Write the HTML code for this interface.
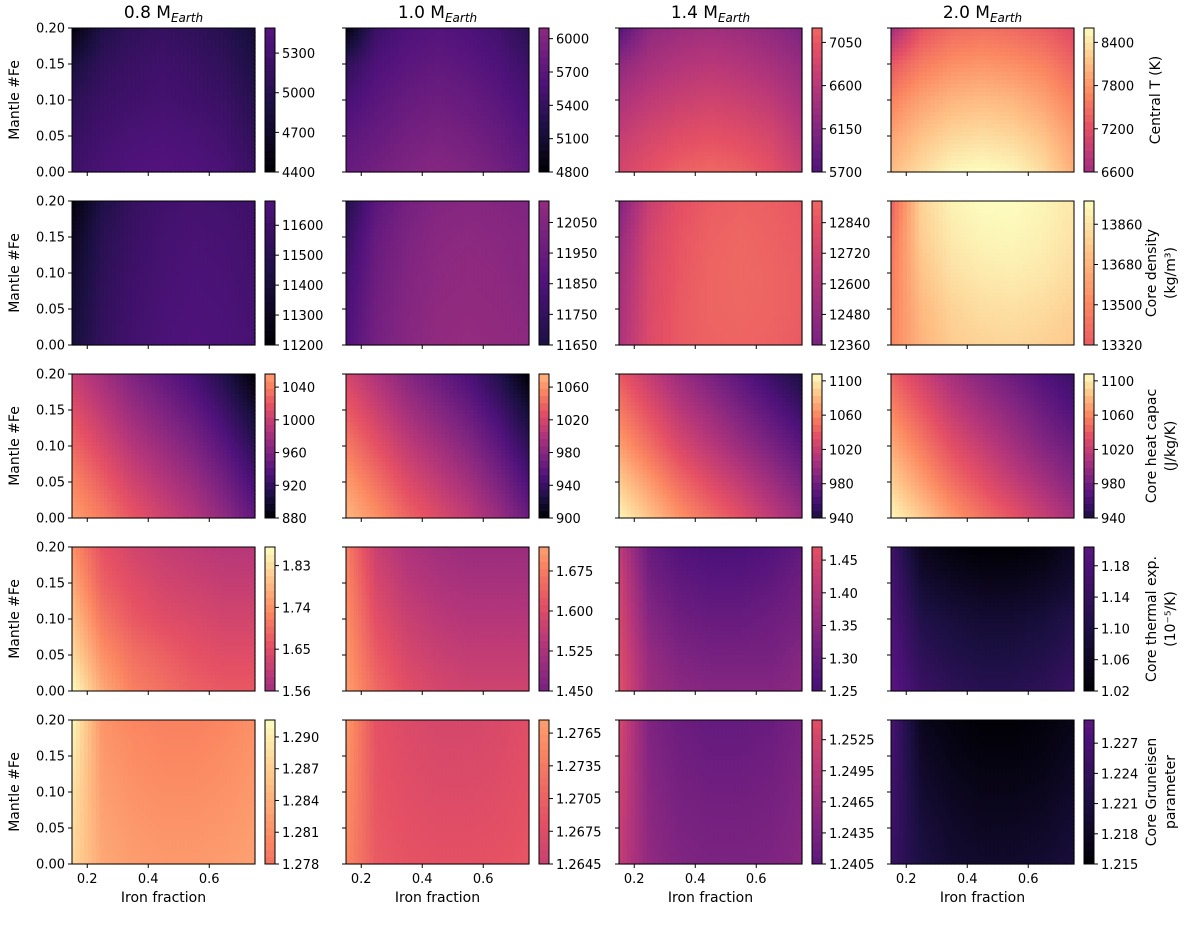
<!DOCTYPE html>
<html><head><meta charset="utf-8"><title>Planet core property grid</title>
<style>
html,body{margin:0;padding:0;background:#fff;}
svg{display:block;font-family:"DejaVu Sans","Liberation Sans",sans-serif;}
</style></head>
<body>
<svg id="fig" width="1200" height="930" viewBox="0 0 1200 930" xmlns="http://www.w3.org/2000/svg"></svg>
<script>
// ---- data ----
const massLabels = ["0.8", "1.0", "1.4", "2.0"];
const rowLabels = [["Central T (K)"], ["Core density", "(kg/m³)"], ["Core heat capac", "(J/kg/K)"], ["Core thermal exp.", "(10⁻⁵/K)"], ["Core Gruneisen", "parameter"]];
const xVals = [0.15, 0.25, 0.35, 0.45, 0.55, 0.65, 0.75];
const yVals = [0.20, 0.15, 0.10, 0.05, 0.00];
const xTicks = [0.2, 0.4, 0.6];
const yTicks = [0.00, 0.05, 0.10, 0.15, 0.20];
const cbRange = [
 [[4400,5490],[4800,6096],[5700,7200],[6600,8600]],
 [[11200,11681],[11650,12120],[12360,12925],[13320,13964]],
 [[880,1056],[900,1076],[940,1108],[940,1108]],
 [[1.56,1.87],[1.45,1.72],[1.25,1.47],[1.02,1.204]],
 [[1.278,1.2916],[1.2645,1.2777],[1.2405,1.2544],[1.215,1.2293]]
];
// fraction of the magma colormap spanned by each colorbar
const cbColor = [
 [[0,0.27],[0,0.40],[0.25,0.68],[0.45,1]],
 [[0,0.25],[0.12,0.42],[0.35,0.68],[0.65,1]],
 [[0,0.80],[0,0.85],[0.12,1],[0.12,1]],
 [[0.45,1],[0.35,0.80],[0.22,0.62],[0,0.28]],
 [[0.70,1],[0.55,0.80],[0.28,0.62],[0,0.28]]
];
const cbTicks = [
 [[4400,4700,5000,5300],[4800,5100,5400,5700,6000],[5700,6150,6600,7050],[6600,7200,7800,8400]],
 [[11200,11300,11400,11500,11600],[11650,11750,11850,11950,12050],[12360,12480,12600,12720,12840],[13320,13500,13680,13860]],
 [[880,920,960,1000,1040],[900,940,980,1020,1060],[940,980,1020,1060,1100],[940,980,1020,1060,1100]],
 [[1.56,1.65,1.74,1.83],[1.450,1.525,1.600,1.675],[1.25,1.30,1.35,1.40,1.45],[1.02,1.06,1.10,1.14,1.18]],
 [[1.278,1.281,1.284,1.287,1.290],[1.2645,1.2675,1.2705,1.2735,1.2765],[1.2405,1.2435,1.2465,1.2495,1.2525],[1.215,1.218,1.221,1.224,1.227]]
];
const cbDecimals = [[0,0,0,0],[0,0,0,0],[0,0,0,0],[2,3,2,2],[3,4,4,3]];
const r1c1 = [[4450,4950,5100,5150,5100,5000,4800],[4850,5100,5200,5250,5200,5100,4900],[5050,5200,5250,5300,5250,5200,5000],[5150,5280,5350,5380,5350,5280,5100],[5250,5350,5420,5450,5420,5350,5200]];
const r1c2 = [[4850,5450,5600,5650,5600,5500,5300],[5350,5600,5700,5750,5700,5600,5450],[5550,5700,5800,5850,5800,5700,5550],[5700,5800,5900,5950,5900,5800,5650],[5800,5900,6000,6050,6000,5900,5750]];
const r1c3 = [[5750,6250,6350,6400,6350,6250,6100],[6250,6450,6550,6600,6550,6450,6300],[6500,6650,6750,6800,6750,6650,6450],[6700,6850,6950,7000,6950,6850,6600],[6850,7000,7150,7200,7150,7000,6750]];
const r1c4 = [[6600,7250,7450,7500,7450,7350,7150],[7300,7600,7750,7800,7750,7650,7400],[7650,7900,8050,8100,8050,7900,7650],[7900,8150,8300,8350,8300,8150,7850],[8100,8350,8550,8600,8550,8350,8000]];
const r2c1 = [[11220,11450,11560,11610,11630,11620,11600],[11300,11500,11580,11630,11650,11640,11610],[11350,11520,11600,11640,11660,11650,11620],[11380,11540,11610,11650,11670,11660,11630],[11400,11550,11620,11660,11680,11670,11640]];
const r2c2 = [[11680,11900,12000,12050,12070,12060,12040],[11750,11950,12030,12080,12090,12080,12060],[11800,11970,12050,12090,12100,12090,12070],[11830,11990,12060,12100,12110,12100,12080],[11850,12000,12070,12110,12120,12110,12090]];
const r2c3 = [[12400,12700,12820,12880,12900,12890,12860],[12480,12750,12850,12900,12920,12900,12870],[12530,12770,12860,12910,12925,12910,12880],[12560,12780,12870,12910,12920,12910,12880],[12580,12790,12870,12900,12910,12900,12870]];
const r2c4 = [[13350,13800,13920,13960,13960,13930,13880],[13420,13780,13890,13930,13940,13910,13860],[13460,13740,13850,13890,13900,13880,13830],[13480,13700,13800,13840,13850,13830,13790],[13500,13680,13770,13800,13810,13790,13760]];
const r3c1 = [[1000,980,960,945,930,910,880],[1015,995,975,960,945,925,900],[1030,1010,990,975,960,940,915],[1045,1025,1005,990,975,955,930],[1056,1040,1020,1005,990,970,945]];
const r3c2 = [[1020,1000,980,965,950,930,900],[1035,1015,995,980,965,945,920],[1050,1030,1010,995,980,960,935],[1065,1045,1025,1010,995,975,950],[1076,1060,1040,1025,1010,990,965]];
const r3c3 = [[1040,1020,1000,985,970,955,940],[1055,1035,1015,1000,985,970,955],[1070,1050,1030,1015,1000,985,970],[1088,1068,1048,1032,1018,1002,985],[1105,1085,1065,1050,1035,1018,1000]];
const r3c4 = [[1045,1025,1005,990,978,965,955],[1060,1040,1020,1005,992,978,965],[1075,1055,1035,1020,1005,990,978],[1090,1070,1050,1035,1020,1005,990],[1106,1088,1068,1052,1038,1022,1005]];
const r4c1 = [[1.74,1.66,1.63,1.61,1.60,1.59,1.59],[1.77,1.68,1.65,1.63,1.62,1.61,1.61],[1.80,1.71,1.67,1.65,1.64,1.63,1.63],[1.83,1.74,1.70,1.68,1.66,1.65,1.65],[1.87,1.77,1.72,1.70,1.68,1.67,1.67]];
const r4c2 = [[1.68,1.57,1.53,1.51,1.50,1.50,1.50],[1.69,1.59,1.55,1.53,1.52,1.52,1.52],[1.70,1.61,1.57,1.55,1.54,1.54,1.54],[1.71,1.63,1.59,1.57,1.56,1.56,1.56],[1.72,1.65,1.61,1.59,1.58,1.58,1.58]];
const r4c3 = [[1.42,1.30,1.27,1.26,1.26,1.27,1.29],[1.44,1.32,1.29,1.28,1.28,1.29,1.31],[1.45,1.34,1.31,1.30,1.30,1.31,1.32],[1.46,1.36,1.33,1.32,1.32,1.32,1.34],[1.47,1.37,1.35,1.34,1.34,1.34,1.35]];
const r4c4 = [[1.16,1.05,1.03,1.02,1.02,1.03,1.06],[1.17,1.08,1.06,1.05,1.05,1.06,1.08],[1.18,1.11,1.09,1.08,1.08,1.09,1.11],[1.19,1.13,1.11,1.10,1.10,1.11,1.13],[1.20,1.15,1.13,1.12,1.12,1.13,1.15]];
const r5c1 = [[1.2910,1.2815,1.2802,1.2797,1.2797,1.2802,1.2812],[1.2900,1.2820,1.2808,1.2803,1.2803,1.2808,1.2816],[1.2890,1.2825,1.2814,1.2809,1.2809,1.2813,1.2820],[1.2885,1.2830,1.2819,1.2815,1.2815,1.2818,1.2824],[1.2880,1.2834,1.2824,1.2820,1.2820,1.2823,1.2828]];
const r5c2 = [[1.2770,1.2685,1.2670,1.2662,1.2662,1.2667,1.2678],[1.2765,1.2688,1.2674,1.2667,1.2667,1.2671,1.2681],[1.2760,1.2691,1.2678,1.2672,1.2672,1.2676,1.2684],[1.2755,1.2694,1.2683,1.2678,1.2678,1.2681,1.2688],[1.2750,1.2697,1.2688,1.2684,1.2684,1.2687,1.2692]];
const r5c3 = [[1.2530,1.2440,1.2422,1.2415,1.2415,1.2420,1.2435],[1.2525,1.2445,1.2427,1.2421,1.2421,1.2426,1.2439],[1.2520,1.2450,1.2432,1.2427,1.2427,1.2431,1.2443],[1.2515,1.2454,1.2437,1.2433,1.2433,1.2436,1.2447],[1.2510,1.2458,1.2442,1.2438,1.2438,1.2441,1.2450]];
const r5c4 = [[1.2270,1.2175,1.2160,1.2152,1.2152,1.2158,1.2170],[1.2265,1.2185,1.2168,1.2160,1.2160,1.2165,1.2178],[1.2260,1.2195,1.2178,1.2170,1.2170,1.2175,1.2188],[1.2255,1.2205,1.2188,1.2180,1.2180,1.2185,1.2198],[1.2250,1.2212,1.2195,1.2190,1.2190,1.2195,1.2205]];
const grids = [[r1c1,r1c2,r1c3,r1c4],[r2c1,r2c2,r2c3,r2c4],[r3c1,r3c2,r3c3,r3c4],[r4c1,r4c2,r4c3,r4c4],[r5c1,r5c2,r5c3,r5c4]];

// ---- layout ----
const NS = "http://www.w3.org/2000/svg";
const svg = document.getElementById("fig");
const colLeft = [72, 346, 619, 891];
const rowTop = [28, 201, 374, 547, 720];
const PW = 183, PH = 144, CBW = 10, CBGAP = 10;
const X0 = 0.15, X1 = 0.75, Y0 = 0, Y1 = 0.2;
const magma = [[0,0,4],[28,16,68],[79,18,123],[129,37,129],[181,54,122],[229,80,100],[251,135,97],[254,194,135],[252,253,191]];
function cmap(t){t=Math.max(0,Math.min(1,t));const s=t*8;const i=Math.min(7,Math.floor(s));const f=s-i;const a=magma[i],b=magma[i+1];
 return "rgb("+[0,1,2].map(k=>Math.round(a[k]+(b[k]-a[k])*f)).join(",")+")";}
function mk(tag, attrs, parent){const e=document.createElementNS(NS,tag);for(const k in attrs)e.setAttribute(k,attrs[k]);(parent||svg).appendChild(e);return e;}
function xScale(c,v){return colLeft[c]+(v-X0)/(X1-X0)*PW;}
function yScale(r,v){return rowTop[r]+PH-(v-Y0)/(Y1-Y0)*PH;}
function colorOf(r,c,v){const [lo,hi]=cbRange[r][c];const [t0,t1]=cbColor[r][c];return cmap(t0+(v-lo)/(hi-lo)*(t1-t0));}
function sample(g,x,y){
 const fx=(x-xVals[0])/(xVals[1]-xVals[0]); const fy=(yVals[0]-y)/(yVals[0]-yVals[1]);
 const i=Math.max(0,Math.min(xVals.length-2,Math.floor(fx))), j=Math.max(0,Math.min(yVals.length-2,Math.floor(fy)));
 const u=Math.max(0,Math.min(1,fx-i)), w=Math.max(0,Math.min(1,fy-j));
 return g[j][i]*(1-u)*(1-w)+g[j][i+1]*u*(1-w)+g[j+1][i]*(1-u)*w+g[j+1][i+1]*u*w;}

const NX=46, NY=36;
for(let r=0;r<5;r++){
 for(let c=0;c<4;c++){
  const g=grids[r][c];
  const panel=mk("g",{});
  
  
  for(let a=0;a<NX;a++){for(let b=0;b<NY;b++){
   const xv=X0+(a+0.5)/NX*(X1-X0), yv=Y1-(b+0.5)/NY*(Y1-Y0);
   const v=sample(g,xv,yv);
   const x=xScale(c,X0+a/NX*(X1-X0)), y=yScale(r,Y1-b/NY*(Y1-Y0));
   const el=mk("rect",{x:x.toFixed(2),y:y.toFixed(2),width:(PW/NX+0.6).toFixed(2),height:(PH/NY+0.6).toFixed(2),fill:colorOf(r,c,v)},panel);
   
   
  }}
  const fr=mk("rect",{x:colLeft[c],y:rowTop[r],width:PW,height:PH,fill:"none",stroke:"#000","stroke-width":1});
  
  
  xTicks.forEach(t=>{const x=xScale(c,t);
   mk("line",{x1:x,x2:x,y1:rowTop[r]+PH,y2:rowTop[r]+PH+4,stroke:"#000"});
   if(r===4){const tl=mk("text",{x:x,y:rowTop[r]+PH+19,"text-anchor":"middle","font-size":13});tl.textContent=t.toFixed(1);
    
    }
  });
  yTicks.forEach(t=>{const y=yScale(r,t);
   mk("line",{x1:colLeft[c]-4,x2:colLeft[c],y1:y,y2:y,stroke:"#000"});
   if(c===0){const tl=mk("text",{x:colLeft[c]-7,y:y+4.5,"text-anchor":"end","font-size":13});tl.textContent=t.toFixed(2);
    
    }
  });
  const [lo,hi]=cbRange[r][c];
  const cbx=colLeft[c]+PW+CBGAP;
  const cb=mk("g",{});
  
  
  const NB=20;
  for(let k=0;k<NB;k++){
   const v=lo+(k+0.5)/NB*(hi-lo);
   const y0=rowTop[r]+PH-(k+1)/NB*PH;
   const band=mk("rect",{x:cbx,y:y0.toFixed(2),width:CBW,height:(PH/NB+0.5).toFixed(2),fill:colorOf(r,c,v)},cb);
   
   
  }
  mk("rect",{x:cbx,y:rowTop[r],width:CBW,height:PH,fill:"none",stroke:"#000","stroke-width":1},cb);
  cbTicks[r][c].forEach(t=>{const y=rowTop[r]+PH-(t-lo)/(hi-lo)*PH;
   mk("line",{x1:cbx+CBW,x2:cbx+CBW+4,y1:y,y2:y,stroke:"#000"},cb);
   const tl=mk("text",{x:cbx+CBW+7,y:y+5,"font-size":13},cb);tl.textContent=t.toFixed(cbDecimals[r][c]);
   
   
  });
 }
 const yl=mk("text",{transform:"translate(19,"+(rowTop[r]+PH/2)+") rotate(-90)","text-anchor":"middle","font-size":14});
 yl.textContent="Mantle #Fe";
 
 
 const lines=rowLabels[r];
 lines.forEach((ln,i)=>{const xx=lines.length===1?1160:1156+i*19;
  const t=mk("text",{transform:"translate("+xx+","+(rowTop[r]+PH/2)+") rotate(-90)","text-anchor":"middle","font-size":14});
  t.textContent=ln;
  
  });
}
for(let c=0;c<4;c++){
 const t=mk("text",{x:colLeft[c]+PW/2,y:18,"text-anchor":"middle","font-size":17});
 
 
 t.appendChild(document.createTextNode(massLabels[c]+" M"));
 const s=mk("tspan",{"font-style":"italic","font-size":12,dy:4},t);s.textContent="Earth";
 const xl=mk("text",{x:colLeft[c]+PW/2,y:902,"text-anchor":"middle","font-size":14});
 xl.textContent="Iron fraction";
 
 
}
</script>
</body></html>
